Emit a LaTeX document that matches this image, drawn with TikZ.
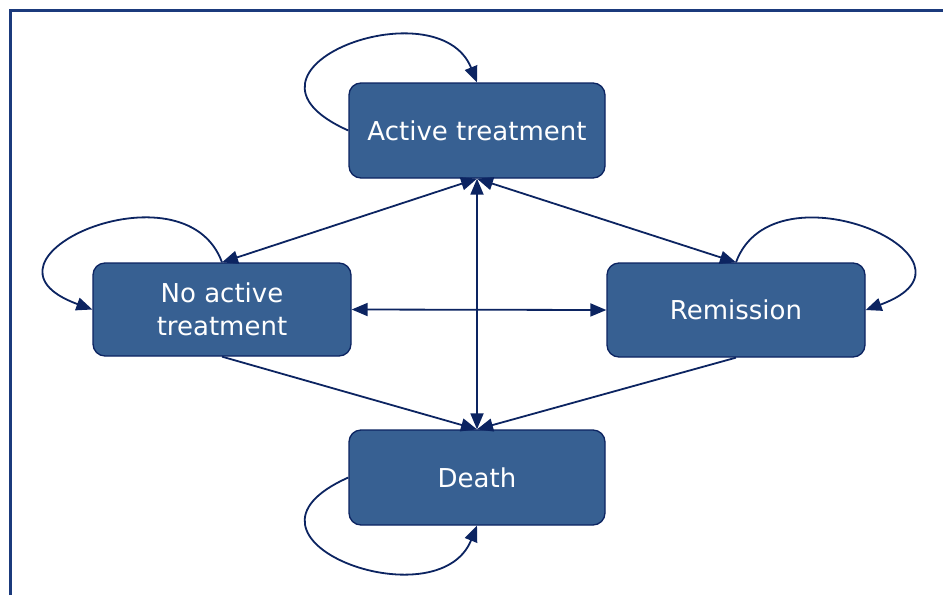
\documentclass[tikz,border=0pt]{standalone}
\usepackage{fontspec}
\setmainfont{DejaVu Sans}
\usetikzlibrary{arrows.meta}
\definecolor{boxfill}{HTML}{376092}
\definecolor{navy}{HTML}{0C2461}
\definecolor{framec}{HTML}{1B3A7C}
\begin{document}
\begin{tikzpicture}[x=1pt,y=1pt,
  state/.style={draw=navy, line width=1.3pt, fill=boxfill, rounded corners=12pt,
    text=white, align=center, font=\fontsize{26}{33}\selectfont,
    minimum width=256pt, minimum height=95pt, inner sep=0pt},
  conn/.style={draw=navy, line width=1.8pt},
  tip/.tip={Triangle[length=16pt,width=13pt]},
  loopc/.style={conn, -tip}
]
\useasboundingbox (0,0) rectangle (943,-595);
\fill[white] (0,0) rectangle (943,-595);
% frame
\draw[framec, line width=3pt] (10,-595) -- (10,-10) -- (943,-10);
% states
\node[state] (A) at (477,-130.5) {Active treatment};
\node[state, minimum width=258pt, minimum height=93pt] (N) at (222,-309.5) {No active\\treatment};
\node[state, minimum width=258pt, minimum height=94pt] (R) at (736,-310) {Remission};
\node[state] (D) at (477,-477.5) {Death};
% transitions
\draw[conn, tip-tip] (A.south) -- (N.north);
\draw[conn, tip-tip] (A.south) -- (R.north);
\draw[conn, tip-tip] (A.south) -- (D.north);
\draw[conn, tip-tip] (N.east) -- (R.west);
\draw[conn, -tip] (N.south) -- (D.north);
\draw[conn, -tip] (R.south) -- (D.north);
% self loops
\draw[loopc] (A.west) to[out=156, in=112, out distance=150pt, in distance=105pt] (A.north);
\draw[loopc] (D.west) to[out=204, in=248, out distance=150pt, in distance=105pt] (D.south);
\draw[loopc] (N.north) to[out=110, in=160, out distance=110pt, in distance=145pt] (N.west);
\draw[loopc] (R.north) to[out=70, in=20, out distance=110pt, in distance=145pt] (R.east);
\end{tikzpicture}
\end{document}
